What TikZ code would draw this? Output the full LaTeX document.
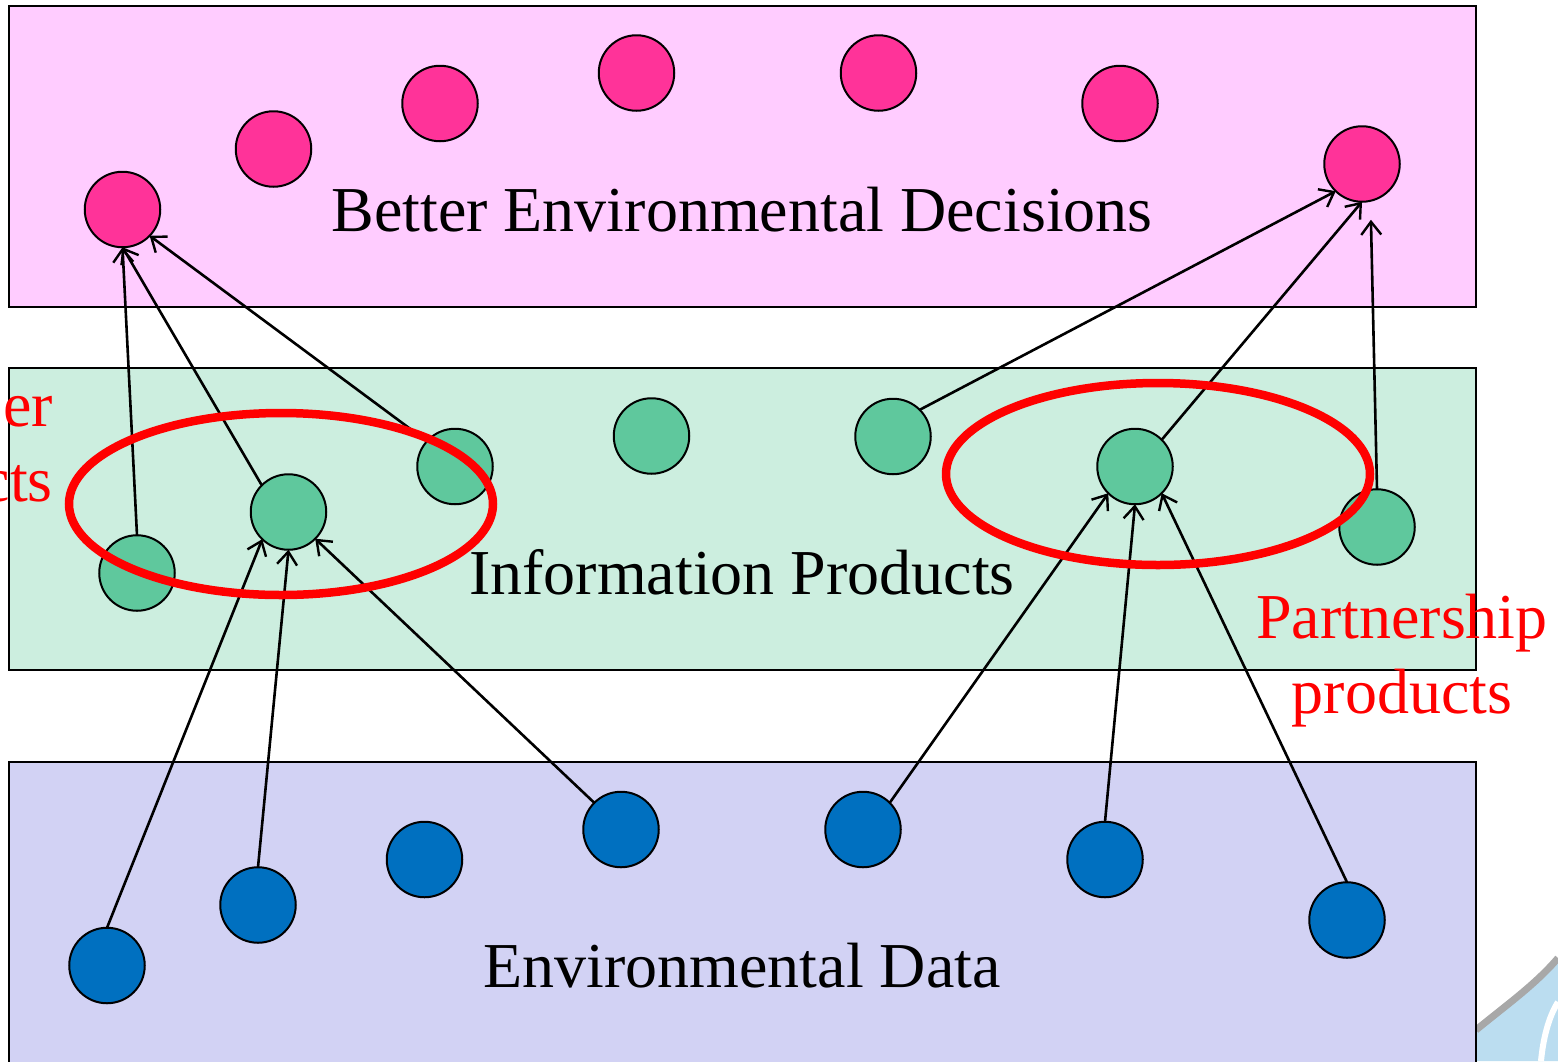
\documentclass[tikz,border=0pt]{standalone}
\usepackage{fontspec}
\setmainfont{Liberation Serif}
\usetikzlibrary{arrows.meta,shapes.geometric}
\definecolor{pinkband}{HTML}{FFCCFF}
\definecolor{pinkdot}{HTML}{FF3399}
\definecolor{greenband}{HTML}{CCEEDF}
\definecolor{greendot}{HTML}{5FC89D}
\definecolor{blueband}{HTML}{D2D2F4}
\definecolor{bluedot}{HTML}{0070C0}
\definecolor{markblue}{HTML}{BBDDF0}
\definecolor{markgray}{HTML}{A8A8A8}
\tikzset{
  x=1pt,y=-1pt,
  band/.style={draw=black,line width=2pt,line join=miter},
  dot/.style={circle,draw=black,line width=2pt,minimum size=75.5pt,inner sep=0pt,outer sep=0pt},
  pdot/.style={dot,fill=pinkdot},
  gdot/.style={dot,fill=greendot},
  bdot/.style={dot,fill=bluedot},
  link/.style={draw=black,line width=2.6pt,-{Straight Barb[length=13pt,width=20pt,line width=2.4pt]}},
  group/.style={draw=red,line width=8.5pt,inner sep=0pt,ellipse,minimum width=424pt,minimum height=182pt},
  lab/.style={font=\fontsize{64}{64}\selectfont,text=black,inner sep=0pt,anchor=base},
  redlab/.style={lab,text=red},
}
\begin{document}
\begin{tikzpicture}
\useasboundingbox (0,0) rectangle (1558,1061);
\fill[white] (0,0) rectangle (1558,1061);
% watermark
\fill[markblue] (1476,1030) .. controls (1505,1006) and (1535,985) .. (1558,958) -- (1558,1061) -- (1476,1061) -- cycle;
\draw[markgray,line width=7pt] (1476,1030) .. controls (1505,1006) and (1535,985) .. (1558,958);
\draw[white,line width=6pt] (1541,1061) .. controls (1543,1040) and (1548,1018) .. (1558,1002);
% bands
\path[band,fill=pinkband] (9,6) rectangle (1476,307);
\path[band,fill=greenband] (9,368) rectangle (1476,670);
\path[band,fill=blueband] (9,762) rectangle (1476,1070);
% dots
\node[pdot] (p1) at (122.5,209.5) {};
\node[pdot] (p2) at (273.5,149) {};
\node[pdot] (p3) at (440,103.5) {};
\node[pdot] (p4) at (636.5,73) {};
\node[pdot] (p5) at (878.5,73) {};
\node[pdot] (p6) at (1120,103.5) {};
\node[pdot] (p7) at (1362,164) {};
\node[gdot] (g1) at (137,573) {};
\node[gdot] (g2) at (288.5,512) {};
\node[gdot] (g3) at (455,466.5) {};
\node[gdot] (g4) at (651.5,436) {};
\node[gdot] (g5) at (893,436.5) {};
\node[gdot] (g6) at (1135,466.5) {};
\node[gdot] (g7) at (1377,527) {};
\node[bdot] (b1) at (107,965.5) {};
\node[bdot] (b2) at (258,905) {};
\node[bdot] (b3) at (424.5,859.5) {};
\node[bdot] (b4) at (621,829.5) {};
\node[bdot] (b5) at (863,829.5) {};
\node[bdot] (b6) at (1105,859.5) {};
\node[bdot] (b7) at (1347,920) {};
% connectors
\draw[link] (g1.north) -- (p1.south);
\draw[link] (g2.135) -- (p1.south);
\draw[link] (g3.138) -- (p1.-44);
\draw[link] (g5.45) -- (p7.-134);
\draw[link] (g6.45) -- (p7.south);
\draw[link,shorten >=19pt] (g7.north) -- (p7.-77);
\draw[link] (b1.north) -- (g2.-134);
\draw[link] (b2.north) -- (g2.south);
\draw[link] (b4.135) -- (g2.-45);
\draw[link] (b5.45) -- (g6.-135);
\draw[link] (b6.north) -- (g6.south);
\draw[link] (b7.north) -- (g6.-45);
% red groups
\node[group] (e1) at (281,504) {};
\node[group] (e2) at (1158,474) {};
% labels
\node[lab] (t1) at (742,231) {Better Environmental Decisions};
\node[lab] (t2) at (742,594) {Information Products};
\node[lab] (t3) at (742,987) {Environmental Data};
\node[redlab] (t4) at (1402,638) {Partnership};
\node[redlab] (t5) at (1402,713) {products};
\node[redlab,anchor=base east] (t6) at (53,426) {er};
\node[redlab,anchor=base east] (t7) at (53,501) {cts};
\end{tikzpicture}
\end{document}
